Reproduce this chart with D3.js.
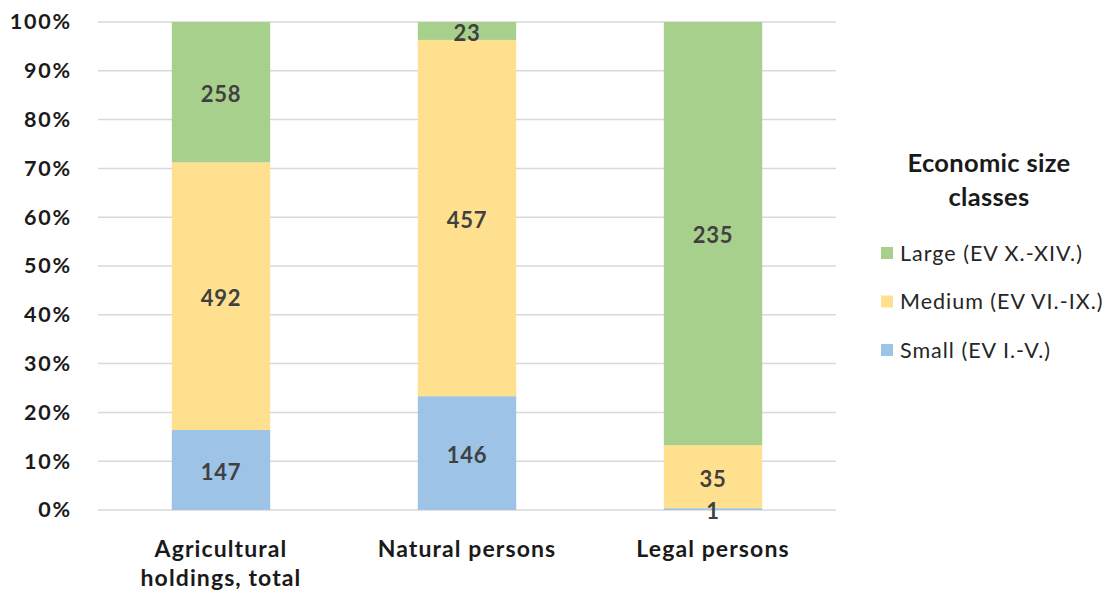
<!DOCTYPE html>
<html>
<head>
<meta charset="utf-8">
<script src="https://cdn.jsdelivr.net/npm/d3@7"></script>
<style>
  html, body { margin: 0; padding: 0; background: #fff; }
  svg { display: block; font-family: Lato, "Open Sans", sans-serif; }
</style>
</head>
<body>
<svg id="chart" width="1117" height="596"></svg>
<script>
// Holdings by economic size class, shown as shares of each group
const categories = ["Agricultural holdings, total", "Natural persons", "Legal persons"];
const categoryLines = [["Agricultural", "holdings, total"], ["Natural persons"], ["Legal persons"]];
const seriesNames = ["Small (EV I.-V.)", "Medium (EV VI.-IX.)", "Large (EV X.-XIV.)"];
const smallValues = [147, 146, 1];
const mediumValues = [492, 457, 35];
const largeValues = [258, 23, 235];
const seriesColors = ["#9dc3e6", "#ffe08f", "#a8d08d"];
const yTicks = [0, 0.1, 0.2, 0.3, 0.4, 0.5, 0.6, 0.7, 0.8, 0.9, 1];
const legendTitle = ["Economic size", "classes"];

const rows = categories.map((c, i) => ({
  category: c,
  s0: smallValues[i], s1: mediumValues[i], s2: largeValues[i]
}));
const keys = ["s0", "s1", "s2"];

const stacked = d3.stack()
  .keys(keys)
  .offset(d3.stackOffsetExpand)(rows);

const svg = d3.select("#chart");
const margin = { left: 98, right: 281, top: 22, bottom: 86 };
const W = 1117, H = 596;

const x = d3.scaleBand()
  .domain(categories)
  .range([margin.left, W - margin.right])
  .paddingInner(0.6)
  .paddingOuter(0.3);

const y = d3.scaleLinear().domain([0, 1]).range([H - margin.bottom, margin.top]);

// gridlines
svg.append("g")
  .selectAll("line")
  .data(yTicks)
  .join("line")
  .attr("x1", margin.left)
  .attr("x2", W - margin.right)
  .attr("y1", d => y(d))
  .attr("y2", d => y(d))
  .attr("stroke", "#d9d9d9")
  .attr("stroke-width", 1.5);

// y axis labels
const yAxis = svg.append("g")
  .attr("transform", `translate(${margin.left},0)`)
  .call(d3.axisLeft(y).tickValues(yTicks).tickFormat(d3.format(".0%")).tickSize(0).tickPadding(26));
yAxis.select(".domain").remove();
yAxis.selectAll("text")
  .attr("font-family", "Lato, 'Open Sans', sans-serif")
  .attr("font-size", 21.5)
  .attr("font-weight", "bold")
  .attr("letter-spacing", 1.8)
  .attr("fill", "#1a1a1a");

// stacked bars
const segments = stacked.flatMap((s, i) => s.map(p => ({ p, key: s.key, idx: i })));

svg.append("g")
  .selectAll("rect")
  .data(segments)
  .join("rect")
  .attr("fill", d => seriesColors[d.idx])
  .attr("x", d => x(d.p.data.category))
  .attr("width", x.bandwidth())
  .attr("y", d => y(d.p[1]))
  .attr("height", d => y(d.p[0]) - y(d.p[1]));

// value labels, drawn above all segments
svg.append("g")
  .selectAll("text")
  .data(segments)
  .join("text")
  .attr("x", d => x(d.p.data.category) + x.bandwidth() / 2)
  .attr("y", d => Math.min((y(d.p[0]) + y(d.p[1])) / 2, y(0) + 1))
  .attr("dy", "0.45em")
  .attr("text-anchor", "middle")
  .attr("font-size", 22)
  .attr("font-weight", "bold")
  .attr("letter-spacing", 0.8)
  .attr("fill", "#404040")
  .text(d => d.p.data[d.key]);

// category labels
const cat = svg.append("g")
  .selectAll("text")
  .data(categories)
  .join("text")
  .attr("x", d => x(d) + x.bandwidth() / 2)
  .attr("y", 557)
  .attr("text-anchor", "middle")
  .attr("font-size", 23)
  .attr("font-weight", "bold")
  .attr("letter-spacing", 1.1)
  .attr("fill", "#1a1a1a");
cat.each(function(d, i) {
  d3.select(this).selectAll("tspan")
    .data(categoryLines[i])
    .join("tspan")
    .attr("x", x(d) + x.bandwidth() / 2)
    .attr("dy", (t, j) => j === 0 ? 0 : 29)
    .text(t => t);
});

// legend
const legend = svg.append("g");
legend.selectAll("text.title")
  .data(legendTitle)
  .join("text")
  .attr("class", "title")
  .attr("x", 989)
  .attr("y", (d, i) => 172 + i * 34)
  .attr("text-anchor", "middle")
  .attr("font-size", 25.5)
  .attr("font-weight", "bold")
  .attr("letter-spacing", 0.3)
  .attr("fill", "#1a1a1a")
  .text(d => d);

const legendOrder = [2, 1, 0];
const item = legend.selectAll("g.item")
  .data(legendOrder)
  .join("g")
  .attr("class", "item")
  .attr("transform", (d, i) => `translate(881,${253 + i * 48.5})`);
item.append("rect")
  .attr("x", 0).attr("y", -6).attr("width", 12).attr("height", 12)
  .attr("fill", d => seriesColors[d]);
item.append("text")
  .attr("x", 19)
  .attr("dy", "0.36em")
  .attr("font-size", 21.5)
  .attr("letter-spacing", 1)
  .attr("fill", "#262626")
  .text(d => seriesNames[d]);
</script>
</body>
</html>
